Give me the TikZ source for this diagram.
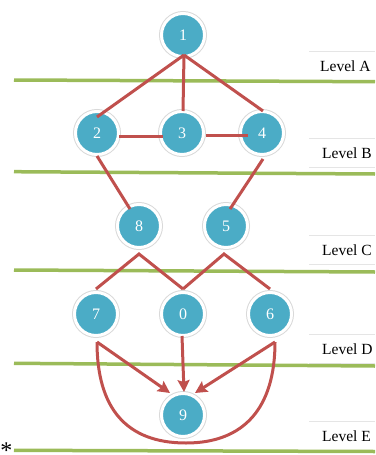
\documentclass[tikz,border=0pt]{standalone}
\usepackage{fontspec}
\setmainfont{Liberation Serif}
\usetikzlibrary{arrows.meta,calc}
\definecolor{nodeblue}{HTML}{4BACC6}
\definecolor{edgered}{HTML}{C0504D}
\definecolor{lvlgreen}{HTML}{9BBB59}
\tikzset{
  vtx/.style={circle,fill=nodeblue,draw=white,line width=3pt,minimum size=43pt,inner sep=0pt,
    text=white,font=\fontsize{16}{16}\selectfont,
    preaction={draw=black!15,line width=5pt}},
  edge/.style={draw=edgered,line width=3pt},
  arr/.style={edge,-{Stealth[length=12pt,width=12pt,inset=2pt]}},
  lvl/.style={draw=lvlgreen,line width=3.5pt},
  lvltxt/.style={anchor=west,font=\fontsize{15.5}{15.5}\selectfont,inner sep=0pt},
  lvlbox/.style={draw=black!10,line width=0.8pt}
}
\begin{document}
\begin{tikzpicture}[x=1pt,y=-1pt]
\useasboundingbox (0,0) rectangle (375,455);
% level label boxes
\foreach \yy in {66,153,250,349,436}{
  \draw[lvlbox] (309,\yy-15) -- (375,\yy-15);
  \draw[lvlbox] (309,\yy+14) -- (375,\yy+14);
}
\node[lvltxt] (la) at (320,66) {Level A};
\node[lvltxt] (lb) at (322,153) {Level B};
\node[lvltxt] (lc) at (322,250) {Level C};
\node[lvltxt] (ld) at (322,349) {Level D};
\node[lvltxt] (le) at (322,436) {Level E};
% green level lines
\coordinate (ga1) at (14,80);   \coordinate (ga2) at (375,81.7);
\coordinate (gb1) at (14,171.7);\coordinate (gb2) at (375,174);
\coordinate (gc1) at (14,270);  \coordinate (gc2) at (375,272);
\coordinate (gd1) at (14,363.3);\coordinate (gd2) at (375,366);
\coordinate (ge1) at (14,450.3);\coordinate (ge2) at (375,451.5);
\draw[lvl] (ga1) -- (ga2);
\draw[lvl] (gb1) -- (gb2);
\draw[lvl] (gc1) -- (gc2);
\draw[lvl] (gd1) -- (gd2);
\draw[lvl] (ge1) -- (ge2);
\node[inner sep=0pt,anchor=north,font=\fontsize{24}{24}\selectfont] (ast) at (6.5,443) {*};
% nodes
\node[vtx] (n1) at (183,35) {1};
\node[vtx] (n2) at (97,133) {2};
\node[vtx] (n3) at (182,133) {3};
\node[vtx] (n4) at (262,133) {4};
\node[vtx] (n8) at (139,226) {8};
\node[vtx] (n5) at (226,226) {5};
\node[vtx] (n7) at (96,314) {7};
\node[vtx] (n0) at (183,314) {0};
\node[vtx] (n6) at (270,314) {6};
\node[vtx] (n9) at (183,415) {9};
% edges
\draw[edge] ($(n1)+(1,20)$) -- ($(n2)+(0,-16)$);
\draw[edge] ($(n1)+(1,20)$) -- ($(n3)+(1,-22)$);
\draw[edge] ($(n1)+(1,20)$) -- ($(n4)+(1,-22)$);
\draw[edge] ($(n2)+(22,3)$) -- ($(n3)+(-19,3)$);
\draw[edge] ($(n3)+(24,2)$) -- ($(n4)+(-14,2)$);
\draw[edge] ($(n2)+(0,23)$) -- ($(n8)+(-9,-17)$);
\draw[edge] ($(n4)+(1,26)$) -- ($(n5)+(4,-17)$);
\draw[edge] ($(n7)+(0,-25)$) -- ($(n8)+(0,28)$) -- ($(n0)+(0,-25)$);
\draw[edge] ($(n0)+(0,-25)$) -- ($(n5)+(-2,28)$) -- ($(n6)+(0,-25)$);
% arrows
\draw[arr] ($(n7)+(1,28)$) -- ($(n9)+(-13,-22)$);
\draw[arr] ($(n0)+(-1,22)$) -- ($(n9)+(1,-23)$);
\draw[arr] ($(n6)+(5,28)$) -- ($(n9)+(12,-22)$);
\draw[edge] ($(n7)+(1,28)$) .. controls ($(n7)+(1,94)$) and ($(n9)+(-57,28)$) .. ($(n9)+(3,28)$)
  .. controls ($(n9)+(61,28)$) and ($(n6)+(5,94)$) .. ($(n6)+(5,28)$);
\end{tikzpicture}
\end{document}
